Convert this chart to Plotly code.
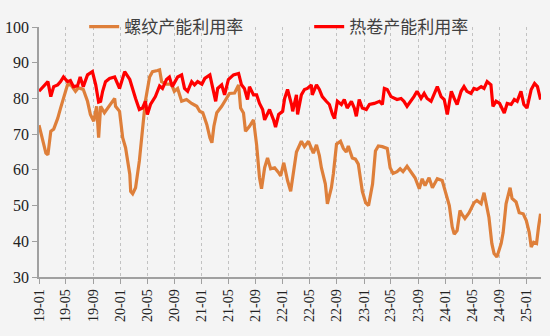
import plotly.graph_objects as go

rebar_dates = [
    "2019-01-01", "2019-01-19", "2019-02-01", "2019-02-10", "2019-02-23", "2019-03-08", "2019-03-26",
    "2019-04-08", "2019-04-21", "2019-05-09", "2019-05-22", "2019-06-14", "2019-06-27", "2019-07-19",
    "2019-08-07", "2019-08-20", "2019-09-04", "2019-09-17", "2019-09-26", "2019-10-05", "2019-10-22",
    "2019-11-05", "2019-11-18", "2019-12-07", "2019-12-11", "2019-12-29", "2020-01-12", "2020-01-25",
    "2020-02-13", "2020-02-17", "2020-02-26", "2020-03-10", "2020-03-27", "2020-04-10", "2020-04-23",
    "2020-05-12", "2020-05-25", "2020-06-17", "2020-06-26", "2020-07-05", "2020-07-27", "2020-08-18",
    "2020-08-31", "2020-09-15", "2020-10-03", "2020-10-25", "2020-11-17", "2020-12-10", "2020-12-23",
    "2021-01-06", "2021-01-24", "2021-02-07", "2021-02-16", "2021-02-25", "2021-03-10", "2021-04-01",
    "2021-04-23", "2021-05-06", "2021-05-29", "2021-06-16", "2021-06-25", "2021-07-08", "2021-07-17",
    "2021-08-04", "2021-08-22", "2021-09-05", "2021-09-18", "2021-09-27", "2021-10-11", "2021-10-24",
    "2021-11-07", "2021-11-25", "2021-12-13", "2021-12-22", "2022-01-05", "2022-01-22", "2022-02-05",
    "2022-02-18", "2022-03-03", "2022-03-25", "2022-04-08", "2022-04-26", "2022-05-18", "2022-06-01",
    "2022-06-14", "2022-06-23", "2022-07-11", "2022-07-20", "2022-08-07", "2022-08-16", "2022-08-30",
    "2022-09-17", "2022-09-30", "2022-10-13", "2022-10-22", "2022-11-09", "2022-11-23", "2022-12-06",
    "2022-12-24", "2023-01-08", "2023-01-21", "2023-02-08", "2023-02-21", "2023-03-06", "2023-03-24",
    "2023-04-15", "2023-04-28", "2023-05-11", "2023-05-29", "2023-06-12", "2023-06-25", "2023-07-13",
    "2023-08-05", "2023-08-18", "2023-09-06", "2023-09-19", "2023-10-02", "2023-10-20", "2023-11-04",
    "2023-11-26", "2023-12-18", "2024-01-01", "2024-01-19", "2024-02-01", "2024-02-10", "2024-02-23",
    "2024-03-07", "2024-03-16", "2024-03-29", "2024-04-17", "2024-05-09", "2024-05-22", "2024-06-10",
    "2024-06-23", "2024-07-02", "2024-07-15", "2024-07-28", "2024-08-07", "2024-08-20", "2024-09-08",
    "2024-09-17", "2024-09-30", "2024-10-18", "2024-10-27", "2024-11-14", "2024-11-28", "2024-12-16",
    "2024-12-30", "2025-01-12", "2025-01-21", "2025-02-01", "2025-02-14", "2025-02-23", "2025-03-04",
]
rebar_values = [
    72.5, 68.0, 64.7, 64.2, 70.8, 71.4, 74.4,
    77.3, 80.0, 83.8, 84.0, 82.0, 83.0, 82.5,
    79.2, 75.5, 73.6, 77.8, 69.0, 77.8, 76.0,
    77.3, 78.3, 80.0, 77.8, 76.4, 69.0, 66.2,
    58.8, 54.0, 53.3, 55.0, 62.5, 71.7, 79.2,
    86.0, 87.5, 87.8, 88.0, 84.7, 84.0, 84.0,
    82.0, 82.8, 79.2, 79.7, 78.6, 77.8, 76.4,
    76.0, 72.7, 69.0, 67.6, 72.2, 76.0, 77.8,
    80.0, 81.4, 81.5, 83.8, 77.3, 75.9, 70.8,
    72.2, 74.0, 67.0, 57.8, 54.7, 60.6, 63.3,
    60.3, 60.6, 59.2, 58.3, 62.0, 57.0, 54.0,
    59.0, 65.0, 68.0, 66.5, 68.0, 64.7, 67.0,
    64.0, 60.6, 56.0, 50.5, 55.0, 59.0, 67.2,
    68.0, 66.0, 65.0, 66.7, 63.3, 63.0, 61.6,
    54.0, 50.8, 50.0, 56.0, 65.3, 66.7, 66.5,
    66.0, 60.6, 59.0, 59.5, 60.3, 59.5, 61.0,
    58.8, 57.8, 54.7, 57.5, 55.6, 57.8, 55.0,
    57.5, 57.0, 53.6, 50.0, 44.0, 42.0, 43.0,
    48.6, 47.5, 46.4, 48.0, 50.8, 51.4, 50.5,
    53.6, 50.5, 46.7, 39.4, 36.6, 35.6, 39.4,
    42.5, 50.5, 55.0, 52.0, 51.0, 48.0, 47.7,
    45.8, 42.5, 38.4, 39.7, 39.4, 44.0, 47.7,
]

hrc_dates = [
    "2019-01-01", "2019-01-19", "2019-02-10", "2019-02-23", "2019-03-08", "2019-03-26", "2019-04-08",
    "2019-04-21", "2019-05-09", "2019-05-22", "2019-06-05", "2019-06-23", "2019-07-05", "2019-07-19",
    "2019-08-07", "2019-08-29", "2019-09-13", "2019-09-26", "2019-10-05", "2019-10-14", "2019-10-27",
    "2019-11-14", "2019-12-07", "2019-12-29", "2020-01-21", "2020-02-13", "2020-02-26", "2020-03-10",
    "2020-03-27", "2020-04-10", "2020-04-23", "2020-05-02", "2020-05-16", "2020-06-07", "2020-06-26",
    "2020-07-09", "2020-07-27", "2020-08-09", "2020-08-22", "2020-09-15", "2020-10-03", "2020-10-16",
    "2020-10-30", "2020-11-17", "2020-11-30", "2020-12-14", "2021-01-02", "2021-01-15", "2021-02-07",
    "2021-02-20", "2021-03-05", "2021-03-14", "2021-04-01", "2021-04-14", "2021-05-01", "2021-05-24",
    "2021-06-16", "2021-06-29", "2021-07-12", "2021-07-26", "2021-08-04", "2021-08-22", "2021-09-05",
    "2021-09-18", "2021-10-02", "2021-10-11", "2021-10-24", "2021-11-02", "2021-11-20", "2021-11-29",
    "2021-12-13", "2021-12-31", "2022-01-09", "2022-01-22", "2022-02-09", "2022-02-14", "2022-03-03",
    "2022-03-08", "2022-03-25", "2022-04-08", "2022-04-21", "2022-05-09", "2022-05-13", "2022-06-01",
    "2022-06-14", "2022-06-27", "2022-07-15", "2022-07-29", "2022-08-12", "2022-08-21", "2022-09-03",
    "2022-09-21", "2022-10-04", "2022-10-17", "2022-11-05", "2022-11-18", "2022-11-27", "2022-12-10",
    "2022-12-24", "2023-01-11", "2023-01-25", "2023-02-16", "2023-03-11", "2023-03-24", "2023-04-02",
    "2023-04-15", "2023-05-02", "2023-05-16", "2023-05-29", "2023-06-16", "2023-06-29", "2023-07-13",
    "2023-07-31", "2023-08-13", "2023-08-27", "2023-09-14", "2023-09-28", "2023-10-11", "2023-10-29",
    "2023-11-12", "2023-11-26", "2023-12-13", "2023-12-27", "2024-01-10", "2024-01-28", "2024-02-10",
    "2024-02-23", "2024-03-12", "2024-03-25", "2024-04-07", "2024-04-25", "2024-05-09", "2024-05-22",
    "2024-06-10", "2024-06-23", "2024-07-07", "2024-07-24", "2024-08-02", "2024-08-16", "2024-09-01",
    "2024-09-13", "2024-09-22", "2024-10-05", "2024-10-23", "2024-11-06", "2024-11-19", "2024-12-06",
    "2024-12-19", "2025-01-02", "2025-01-21", "2025-02-05", "2025-02-18", "2025-03-04",
]
hrc_values = [
    82.0, 83.3, 84.7, 80.5, 83.3, 83.8, 84.7,
    86.0, 84.7, 85.0, 83.3, 83.5, 86.0, 83.3,
    86.6, 87.5, 83.8, 79.0, 79.2, 82.0, 84.7,
    85.6, 86.0, 82.8, 87.5, 85.3, 82.5, 80.0,
    76.9, 77.3, 79.2, 75.5, 78.3, 80.5, 83.5,
    82.8, 85.3, 86.0, 83.3, 86.0, 86.6, 82.8,
    82.0, 84.7, 83.8, 84.7, 84.0, 85.6, 86.6,
    82.8, 79.2, 82.8, 83.8, 81.0, 85.3, 86.6,
    87.0, 83.8, 82.8, 79.7, 83.3, 81.0, 81.0,
    78.6, 76.9, 74.0, 75.5, 76.9, 74.0, 72.0,
    75.5, 76.4, 80.0, 82.5, 78.3, 76.4, 81.0,
    75.5, 81.0, 82.5, 82.8, 83.8, 81.0, 83.8,
    82.5, 80.5, 79.2, 78.3, 75.5, 74.4, 79.2,
    78.3, 79.7, 77.3, 79.2, 77.3, 75.0, 79.7,
    77.3, 76.9, 78.3, 78.6, 79.2, 78.3, 82.8,
    82.5, 80.5, 80.0, 79.7, 80.0, 79.2, 77.8,
    79.2, 80.5, 82.0, 80.0, 81.4, 80.0, 79.2,
    81.0, 83.3, 80.5, 79.7, 75.5, 82.0, 80.0,
    78.3, 82.0, 83.3, 82.0, 81.4, 82.8, 82.5,
    83.3, 82.8, 84.7, 83.8, 77.8, 79.2, 78.6,
    77.3, 75.9, 78.6, 78.3, 79.7, 79.2, 82.0,
    78.3, 77.3, 82.5, 84.2, 83.3, 79.7,
]

series_names = ["螺纹产能利用率", "热卷产能利用率"]
y_ticks = [30, 40, 50, 60, 70, 80, 90, 100]

fig = go.Figure()
fig.add_trace(go.Scatter(x=rebar_dates, y=rebar_values, mode="lines", name=series_names[0],
                         line=dict(color="#DE7F3A", width=3.2)))
fig.add_trace(go.Scatter(x=hrc_dates, y=hrc_values, mode="lines", name=series_names[1],
                         line=dict(color="#FF0000", width=3.2)))

serif = "Liberation Serif"
fig.update_layout(
    width=550, height=336,
    margin=dict(l=39, r=9, t=25, b=59),
    paper_bgcolor="#f4f4f4", plot_bgcolor="#f4f4f4",
    showlegend=True,
    legend=dict(orientation="h", x=0.09, xanchor="left", y=1.0, yanchor="middle",
                font=dict(family="Noto Sans CJK SC", size=17, color="#404040"),
                bgcolor="rgba(0,0,0,0)", entrywidth=180, entrywidthmode="pixels"),
    xaxis=dict(type="date", range=["2019-01-01", "2025-03-06"], tick0="2019-01-01", dtick="M4",
               tickformat="%y-%m", tickangle=-90, showgrid=True, gridcolor="#c2c2c2",
               griddash="dot", gridwidth=1, showline=True, linecolor="#a0a0a0", linewidth=1.5,
               ticks="outside", ticklen=5, tickcolor="#a0a0a0", zeroline=False,
               tickfont=dict(family=serif, size=14, color="#222"), automargin=False),
    yaxis=dict(range=[30, 100], tickvals=y_ticks, showgrid=False, showline=True,
               linecolor="#a0a0a0", linewidth=1.5, ticks="outside", ticklen=5, tickcolor="#a0a0a0",
               zeroline=False, tickfont=dict(family=serif, size=16, color="#222"), automargin=False),
)

fig.write_html("out.html")
